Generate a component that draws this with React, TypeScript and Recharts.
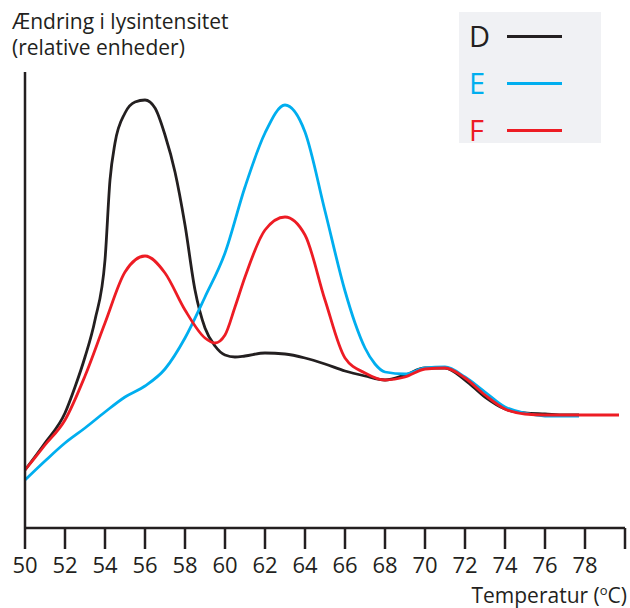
import React from 'react';
import { LineChart, Line, XAxis, YAxis, Legend } from 'recharts';

// temperature (°C) samples and relative light intensity
const dTemps = [50, 51, 52, 52.5, 53, 53.5, 54, 54.25, 54.5, 55, 55.5, 56, 56.5, 57, 57.5, 58, 58.5, 59, 59.5, 60, 60.5, 61, 62, 63, 64, 65, 66, 67, 68, 69, 70, 71, 72, 73, 74, 75, 76, 77, 77.7];
const dValues = [58, 85, 115, 141, 171, 208, 268, 348, 385, 415, 426, 428, 420, 393, 356, 303, 238, 200, 182, 173, 171, 172, 175, 174, 170, 164, 157, 152, 148, 153, 160, 160, 148, 131, 119, 115, 114, 113, 113];

const eTemps = [50, 51, 52, 53, 54, 55, 56, 57, 58, 59, 60, 61, 62, 63, 64, 65, 66, 66.5, 67, 67.5, 68, 69, 70, 71, 72, 73, 74, 75, 76, 77, 77.7];
const eValues = [48, 67, 85, 100, 116, 131, 142, 159, 190, 231, 275, 341, 395, 423, 396, 317, 237, 205, 180, 164, 156, 154, 160, 161, 151, 136, 121, 115, 112, 112, 112];

const fTemps = [50, 51, 52, 53, 54, 55, 56, 57, 58, 59, 59.5, 60, 60.5, 61, 62, 63, 64, 65, 66, 67, 68, 69, 70, 71, 72, 73, 74, 75, 76, 77, 78, 79, 79.7];
const fValues = [58, 83, 108, 152, 205, 256, 272, 255, 218, 190, 185, 193, 221, 251, 298, 311, 293, 228, 170, 155, 148, 151, 159, 160, 150, 133, 119, 114, 113, 113, 113, 113, 113];

const xTicks = [50, 52, 54, 56, 58, 60, 62, 64, 66, 68, 70, 72, 74, 76, 78, 80];

const seriesNames = ['D', 'E', 'F'];
const seriesColors = ['#231f20', '#00aeef', '#ed1c24'];

const toPoints = (temps: number[], values: number[]) => temps.map((t, i) => ({ t, v: values[i] }));

const series = [
  toPoints(dTemps, dValues),
  toPoints(eTemps, eValues),
  toPoints(fTemps, fValues),
];

const FONT = '"Open Sans", "Noto Sans", sans-serif';
const INK = '#231f20';

const LegendBox = () => (
  <div style={{ background: '#f0f1f4', width: 142, height: 131, position: 'relative', fontFamily: FONT }}>
    {seriesNames.map((name, i) => (
      <div key={name} style={{ position: 'absolute', left: 10, top: 4 + i * 47, height: 40, display: 'flex', alignItems: 'center' }}>
        <span style={{ color: seriesColors[i], fontSize: 29, width: 38, lineHeight: '40px' }}>{name}</span>
        <span style={{ display: 'inline-block', width: 55, height: 3, background: seriesColors[i] }} />
      </div>
    ))}
  </div>
);

export default function App() {
  return (
    <div style={{ position: 'absolute', left: 0, top: 0, width: 630, height: 608, background: '#fff' }}>
      <div style={{ position: 'absolute', left: 12, top: 8, fontFamily: FONT, fontSize: 21, lineHeight: '26px', color: INK }}>
        Ændring i lysintensitet
        <br />
        (relative enheder)
      </div>
      <LineChart width={630} height={608} margin={{ top: 72, right: 5, bottom: 0, left: 24 }}>
        <XAxis
          type="number"
          dataKey="t"
          domain={[50, 80]}
          ticks={xTicks}
          allowDuplicatedCategory={false}
          height={80}
          stroke={INK}
          strokeWidth={2.5}
          tickSize={21}
          tickMargin={8}
          tickFormatter={(v) => (v === 80 ? '' : String(v))}
          tick={{ fontSize: 22, fill: INK, fontFamily: FONT }}
        />
        <YAxis type="number" domain={[0, 456]} width={1} tick={false} tickLine={false} stroke={INK} strokeWidth={2.5} />
        <Legend
          layout="horizontal"
          verticalAlign="middle"
          content={() => <LegendBox />}
          wrapperStyle={{ top: 12, left: 459, width: 142, height: 131 }}
        />
        {series.map((pts, i) => (
          <Line
            key={seriesNames[i]}
            data={pts}
            dataKey="v"
            name={seriesNames[i]}
            type="monotone"
            stroke={seriesColors[i]}
            strokeWidth={2.8}
            dot={false}
            isAnimationActive={false}
          />
        ))}
      </LineChart>
      <div style={{ position: 'absolute', right: 3, top: 581, fontFamily: FONT, fontSize: 21, color: INK, whiteSpace: 'nowrap' }}>
        Temperatur (<sup style={{ fontSize: 13 }}>o</sup>C)
      </div>
    </div>
  );
}
